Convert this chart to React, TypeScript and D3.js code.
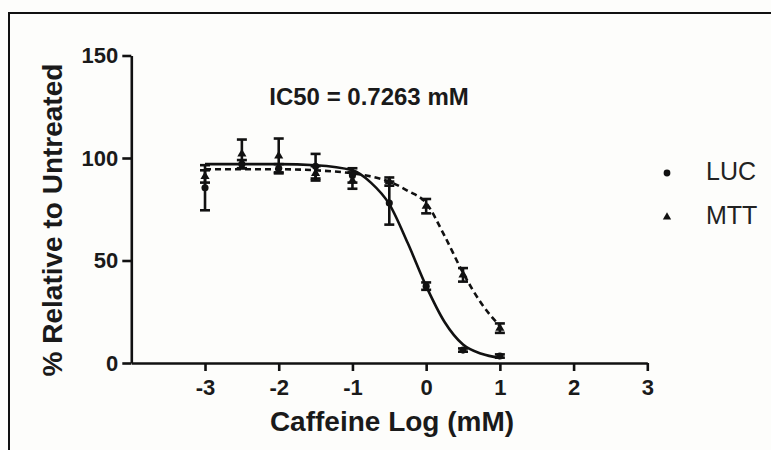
import { useEffect, useRef } from "react";
import * as d3 from "d3";

// log concentrations (mM)
const doses = [-3, -2.5, -2, -1.5, -1, -0.5, 0, 0.5, 1];

const lucMean = [85.5, 97, 95, 96, 91.5, 78, 37.5, 6.3, 3.4];
const lucErr = [11, 2, 2, 6, 3.5, 10.5, 1.8, 0.8, 0.8];

const mttMean = [91, 102, 101, 92.5, 89, 88.5, 76.5, 43, 17];
const mttErr = [3, 7, 8.5, 3.5, 4, 2, 3.5, 3.3, 2.3];

// fitted curves
const fitX = [-3, -2.5, -2, -1.5, -1, -0.75, -0.5, -0.25, 0, 0.25, 0.5, 0.75, 1];
const lucFit = [97, 97, 97, 96.5, 94, 88, 77.5, 58.5, 37.5, 20, 9, 4.5, 2.5];
const mttFit = [94.5, 94.5, 94.5, 94, 92.5, 91, 88.5, 84, 78, 62, 44, 29, 18];

const xTicks = [-3, -2, -1, 0, 1, 2, 3];
const yTicks = [0, 50, 100, 150];

const seriesNames = ["LUC", "MTT"];
const ic50Label = "IC50 = 0.7263 mM";

export default function App() {
    const svgRef = useRef<SVGSVGElement>(null);

    useEffect(() => {
        const svg = d3.select(svgRef.current);
        svg.selectAll("*").remove();

        const width = 771;
        const height = 450;
        const font = "'Liberation Sans', Arial, sans-serif";

        svg.attr("width", width).attr("height", height);

        svg.append("rect")
            .attr("width", width)
            .attr("height", height)
            .attr("fill", "#fdfdfb");

        // outer frame (only top and left visible)
        svg.append("path")
            .attr("d", `M9,${height} V13 H${width}`)
            .attr("fill", "none")
            .attr("stroke", "#111")
            .attr("stroke-width", 2);

        const x = d3.scaleLinear().domain([-4, 3]).range([131.3, 647.3]);
        const y = d3.scaleLinear().domain([0, 150]).range([363, 55.5]);

        const ink = "#111";
        const axisW = 2.6;

        // axes
        const xAxis = svg
            .append("g")
            .attr("transform", `translate(0, ${y(0)})`)
            .call(
                d3.axisBottom(x)
                    .tickValues(xTicks)
                    .tickSize(8)
                    .tickSizeOuter(0)
                    .tickPadding(6)
                    .tickFormat((d) => String(d))
            );
        xAxis.select(".domain").attr("stroke", ink).attr("stroke-width", axisW);
        xAxis.selectAll(".tick line").attr("stroke", ink).attr("stroke-width", axisW);
        xAxis.selectAll(".tick text")
            .attr("fill", "#1a1a1a")
            .attr("font-family", font)
            .attr("font-weight", "bold")
            .attr("font-size", 22)
            .attr("dy", "0.82em");

        const yAxis = svg
            .append("g")
            .attr("transform", `translate(${x(-4)}, 0)`)
            .call(
                d3.axisLeft(y)
                    .tickValues(yTicks)
                    .tickSize(9)
                    .tickSizeOuter(0)
                    .tickPadding(4)
                    .tickFormat((d) => String(d))
            );
        yAxis.select(".domain").attr("stroke", ink).attr("stroke-width", axisW);
        yAxis.selectAll(".tick line").attr("stroke", ink).attr("stroke-width", axisW);
        yAxis.selectAll(".tick text")
            .attr("fill", "#1a1a1a")
            .attr("font-family", font)
            .attr("font-weight", "bold")
            .attr("font-size", 22);

        // axis titles
        svg.append("text")
            .attr("x", 392)
            .attr("y", 431)
            .attr("text-anchor", "middle")
            .attr("font-family", font)
            .attr("font-weight", "bold")
            .attr("font-size", 28)
            .attr("fill", "#1a1a1a")
            .text("Caffeine Log (mM)");

        svg.append("text")
            .attr("transform", "translate(62, 220) rotate(-90)")
            .attr("text-anchor", "middle")
            .attr("font-family", font)
            .attr("font-weight", "bold")
            .attr("font-size", 28)
            .attr("fill", "#1a1a1a")
            .text("% Relative to Untreated");

        svg.append("text")
            .attr("x", 369)
            .attr("y", 105)
            .attr("text-anchor", "middle")
            .attr("font-family", font)
            .attr("font-weight", "bold")
            .attr("font-size", 24)
            .attr("fill", "#1a1a1a")
            .text(ic50Label);

        // fit curves
        const line = d3
            .line<number>()
            .x((_, i) => x(fitX[i]))
            .y((d) => y(d))
            .curve(d3.curveMonotoneX);

        svg.append("path")
            .attr("d", line(mttFit))
            .attr("fill", "none")
            .attr("stroke", ink)
            .attr("stroke-width", 2.6)
            .attr("stroke-dasharray", "6,4");

        svg.append("path")
            .attr("d", line(lucFit))
            .attr("fill", "none")
            .attr("stroke", ink)
            .attr("stroke-width", 2.6);

        // error bars
        const drawErrors = (means: number[], errs: number[]) => {
            const g = svg.append("g").attr("stroke", ink).attr("stroke-width", 2.6);
            doses.forEach((d, i) => {
                const cx = x(d);
                const top = y(means[i] + errs[i]);
                const bot = y(means[i] - errs[i]);
                g.append("line").attr("x1", cx).attr("x2", cx).attr("y1", top).attr("y2", bot);
                g.append("line").attr("x1", cx - 5).attr("x2", cx + 5).attr("y1", top).attr("y2", top);
                g.append("line").attr("x1", cx - 5).attr("x2", cx + 5).attr("y1", bot).attr("y2", bot);
            });
        };
        drawErrors(lucMean, lucErr);
        drawErrors(mttMean, mttErr);

        // markers
        const circle = d3.symbol(d3.symbolCircle, 40);
        const tri = d3.symbol(d3.symbolTriangle, 36);

        svg.append("g")
            .selectAll("path")
            .data(lucMean)
            .join("path")
            .attr("d", circle)
            .attr("transform", (d, i) => `translate(${x(doses[i])}, ${y(d)})`)
            .attr("fill", ink);

        svg.append("g")
            .selectAll("path")
            .data(mttMean)
            .join("path")
            .attr("d", tri)
            .attr("transform", (d, i) => `translate(${x(doses[i])}, ${y(d)})`)
            .attr("fill", ink);

        // legend
        const legend = svg.append("g");
        seriesNames.forEach((name, i) => {
            const ly = 173 + i * 44;
            legend.append("path")
                .attr("d", i === 0 ? d3.symbol(d3.symbolCircle, 36)() : d3.symbol(d3.symbolTriangle, 30)())
                .attr("transform", `translate(667, ${ly})`)
                .attr("fill", ink);
            legend.append("text")
                .attr("x", 706)
                .attr("y", ly + 7)
                .attr("font-family", font)
                .attr("font-size", 25)
                .attr("fill", "#222")
                .text(name);
        });
    }, []);

    return (
        <svg
            ref={svgRef}
            style={{ position: "absolute", top: 0, left: 0 }}
        />
    );
}
